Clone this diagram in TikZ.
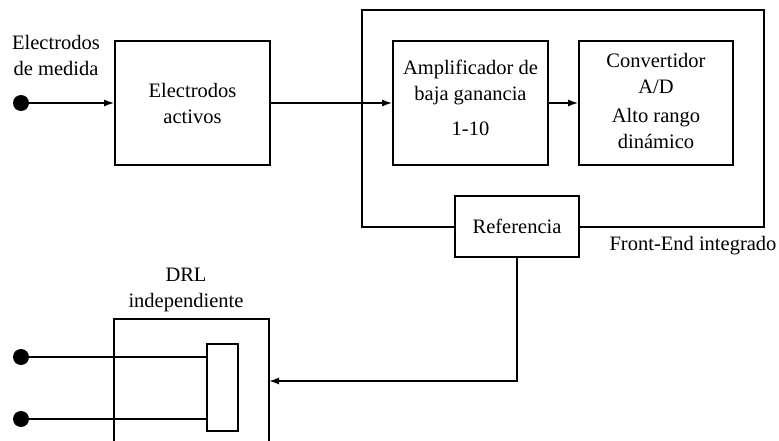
\documentclass[tikz,border=0pt]{standalone}
\usepackage{fontspec}
\setmainfont{Liberation Serif}
\newfontfamily\diagfont{Liberation Serif}
\usetikzlibrary{arrows.meta}
\begin{document}
\begin{tikzpicture}[x=1pt,y=-1pt,
  every node/.style={font=\diagfont\fontsize{20.5}{26}\selectfont},
  box/.style={draw, line width=1.6pt, rectangle, inner sep=0pt},
  lbl/.style={align=center, inner sep=0pt},
  wire/.style={line width=1.6pt},
  arr/.style={wire, -{Latex[length=10pt,width=7pt]}},
  terminal/.style={circle, fill=black, inner sep=0pt, minimum size=16pt}]
\useasboundingbox (0,0) rectangle (779,441);
\clip (0,0) rectangle (779,441);

% integrated front-end frame
\node[box, minimum width=402pt, minimum height=217pt] (fe) at (563,118.5) {};

% processing blocks
\node[box, minimum width=155pt, minimum height=124pt] (ea) at (192.5,103) {};
\node[box, minimum width=155pt, minimum height=124pt] (amp) at (470.5,103) {};
\node[box, minimum width=154pt, minimum height=124pt] (conv) at (656,103) {};
\node[box, fill=white, minimum width=124pt, minimum height=61pt] (ref) at (517,226.5) {};

\node[lbl] (eatxt) at (ea) {Electrodos\\activos};
\node[lbl] (amptxt) at (470.5,98) {Amplificador de\\baja ganancia\\[9pt]1-10};
\node[lbl] (convtxt) at (656,101) {Convertidor\\A/D\\[3pt]Alto rango\\dinámico};
\node[lbl] (reftxt) at (ref) {Referencia};
\node[lbl] (fetxt) at (693,246) {Front-End integrado};

% measuring electrode input
\node[lbl] (medtxt) at (56,55) {Electrodos\\de medida};
\node[terminal] (d1) at (21,103) {};

% independent DRL block (open at the bottom edge)
\coordinate (drlBL) at (114,460);
\coordinate (drlTL) at (114,319);
\coordinate (drlTR) at (269,319);
\coordinate (drlBR) at (269,460);
\coordinate (drlin) at (269,381);
\draw[wire] (drlBL) -- (drlTL) -- (drlTR) -- (drlBR);
\node[lbl] (drltxt) at (186,290) {DRL\\independiente};
\node[box, minimum width=31pt, minimum height=87pt] (inner) at (222.5,387.5) {};
\node[terminal] (d2) at (21,357) {};
\node[terminal] (d3) at (21,419) {};

% connections
\draw[arr] (d1) -- (ea.west);
\draw[arr] (ea.east) -- (amp.west);
\draw[arr] (amp.east) -- (conv.west);
\draw[arr] (ref.south) |- (drlin);
\draw[wire] (d2) -- (d2 -| inner.west);
\draw[wire] (d3) -- (d3 -| inner.west);
\end{tikzpicture}
\end{document}
